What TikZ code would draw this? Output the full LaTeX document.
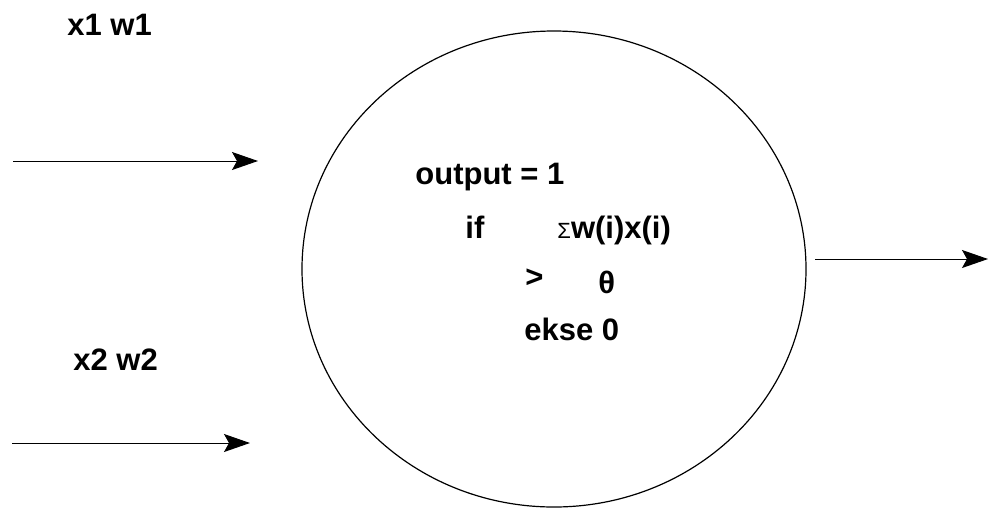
\documentclass[tikz,border=0pt]{standalone}
\usepackage{fontspec}
\setmainfont{Liberation Sans}
\usetikzlibrary{shapes.geometric}
\usetikzlibrary{arrows.meta}

\begin{document}
\begin{tikzpicture}[x=0.5pt,y=-0.5pt,->,>={Stealth[length=13pt,width=9pt,inset=2.5pt]},
        every node/.style={font=\fontsize{15.5}{18}\selectfont\bfseries},
        lbl/.style={anchor=base west,inner sep=0pt}]
        \useasboundingbox (0,0) rectangle (990,510);
        \node[draw, ellipse, line width=0.6pt, minimum width=252pt, minimum height=238pt, inner sep=0pt] (neuron) at (554,269) {};
        \node[lbl] (x1) at (67,35) {x1 w1};
        \node[lbl] (x2) at (73,370) {x2 w2};
        \node[lbl] (out) at (415,184) {output = 1};
        \node[lbl] (if) at (465,238) {if};
        \node[lbl] (sig) at (557,238) {{\fontsize{11}{12}\selectfont\mdseries Σ}w(i)x(i)};
        \node[lbl] (gt) at (525,287) {>};
        \node[lbl] (th) at (598,293) {θ};
        \node[lbl] (else) at (524,340) {ekse 0};
        \coordinate (a1) at (13,161);
        \coordinate (b1) at (258,161);
        \coordinate (a2) at (12,443);
        \coordinate (b2) at (250,443);
        \coordinate (c1) at (815,259);
        \coordinate (c2) at (988,259);
        \path (a1) edge[line width=0.5pt] (b1);
        \path (a2) edge[line width=0.5pt] (b2);
        \path (c1) edge[line width=0.5pt] (c2);
    \end{tikzpicture}
\end{document}
